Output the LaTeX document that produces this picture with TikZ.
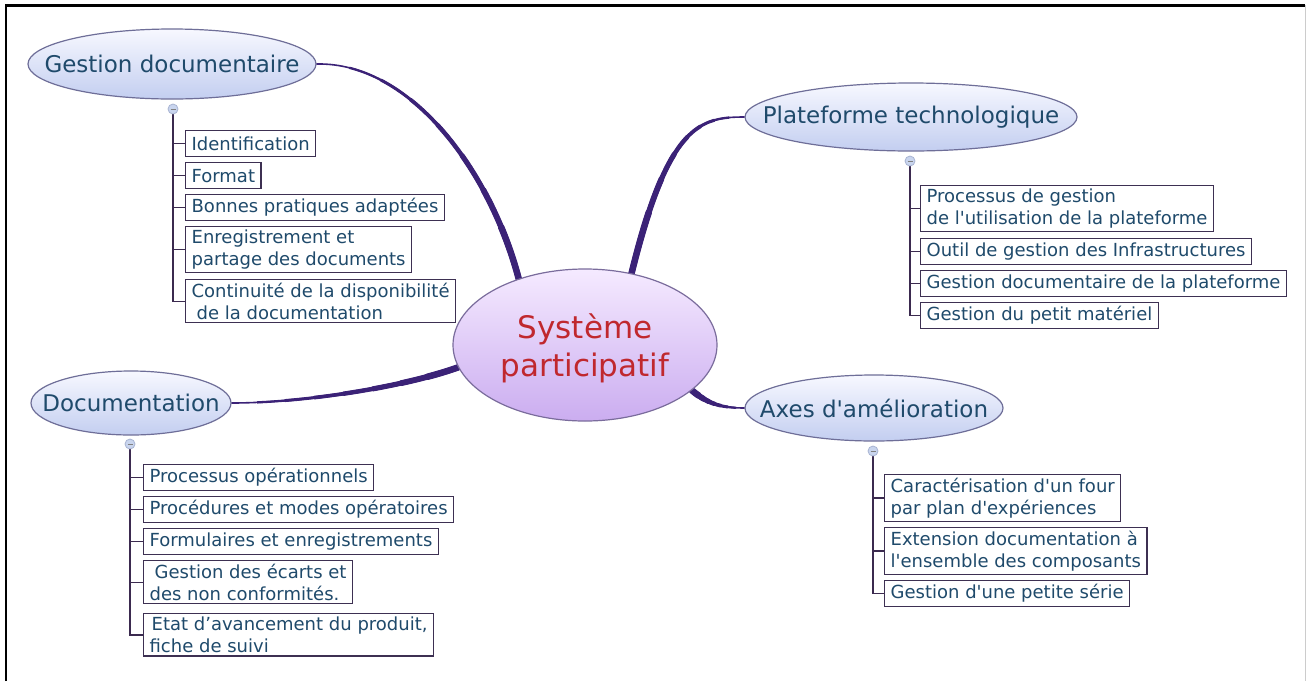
\documentclass[tikz,border=0pt]{standalone}
\usepackage{fontspec}
\setmainfont{DejaVu Sans}[Ligatures=TeXOff]
\usetikzlibrary{shapes.geometric,calc,backgrounds}

\definecolor{txtblue}{HTML}{1F4A6B}
\definecolor{boxline}{HTML}{3D3052}
\definecolor{branchcol}{HTML}{3B2277}
\definecolor{treeline}{HTML}{3B2A4F}
\definecolor{topicedge}{HTML}{6E6E98}
\definecolor{topictop}{HTML}{F7F8FF}
\definecolor{topicbot}{HTML}{C3CEF0}
\definecolor{hubedge}{HTML}{7A6C9C}
\definecolor{hubtop}{HTML}{F5EAFF}
\definecolor{hubbot}{HTML}{CBADF0}
\definecolor{hubtext}{HTML}{C0282E}
\definecolor{knobfill}{HTML}{C9D5EE}
\definecolor{knobedge}{HTML}{A8B4D2}

\tikzset{
  topic/.style={ellipse, draw=topicedge, line width=1.2pt,
    top color=topictop, bottom color=topicbot, inner sep=0pt},
  topiclabel/.style={inner sep=0pt, text=txtblue, font=\fontsize{23}{27}\selectfont},
  hub/.style={ellipse, draw=hubedge, line width=1.2pt,
    top color=hubtop, bottom color=hubbot, inner sep=0pt},
  hublabel/.style={inner sep=0pt, align=center, text=hubtext,
    font=\fontsize{31}{38}\selectfont},
  leaf/.style={draw=boxline, line width=1.3pt, fill=white, anchor=north west,
    inner xsep=6pt, inner ysep=3.5pt, minimum height=26pt, align=left,
    text=txtblue, font=\fontsize{18}{21.5}\selectfont},
  knob/.style={circle, draw=knobedge, line width=0.8pt, fill=knobfill,
    minimum size=10pt, inner sep=0pt,
    path picture={\draw[black!50, line width=0.8pt]
      ($(path picture bounding box.west)+(2.5,0)$) --
      ($(path picture bounding box.east)+(-2.5,0)$);}},
  tree/.style={draw=treeline, line width=1.4pt},
  branch line/.style={draw=branchcol, line cap=round},
}

% tapered branch: thick at #1, Bezier controls #2 and #3, thin at #4
\newcommand\taperbranch[4]{%
  \foreach \tv/\wv in {1/1.6,0.88/2.3,0.76/3.0,0.64/3.7,0.52/4.4,0.40/5.1,0.28/5.8,0.16/6.5}{%
    \path ($(#1)!\tv!(#2)$) coordinate (bqa)
          ($(#2)!\tv!(#3)$) coordinate (bqm)
          ($(#3)!\tv!(#4)$) coordinate (bqn);
    \path ($(bqa)!\tv!(bqm)$) coordinate (bqb)
          ($(bqm)!\tv!(bqn)$) coordinate (bqr);
    \path ($(bqb)!\tv!(bqr)$) coordinate (bqc);
    \draw[branch line, line width=\wv pt] (#1) .. controls (bqa) and (bqb) .. (bqc);
  }%
}

\begin{document}
\begin{tikzpicture}[x=1pt,y=-1pt]
\useasboundingbox (0,0) rectangle (1307,681);
\begin{pgfonlayer}{background}
\fill[white] (0,0) rectangle (1307,681);
\end{pgfonlayer}

% central topic and main topics
\node[hub, minimum width=264pt, minimum height=152pt] (c) at (585,345) {};
\node[hublabel] (ct) at (585,348) {Système\\participatif};
\node[topic, minimum width=288pt, minimum height=70pt] (gd) at (172,64) {};
\node[topiclabel] (gdt) at (gd) {Gestion documentaire};
\node[topic, minimum width=332pt, minimum height=68pt] (pt) at (911,117) {};
\node[topiclabel] (ptt) at (pt) {Plateforme technologique};
\node[topic, minimum width=200pt, minimum height=64pt] (doc) at (131,403) {};
\node[topiclabel] (doct) at (doc) {Documentation};
\node[topic, minimum width=258pt, minimum height=66pt] (ax) at (874,408) {};
\node[topiclabel] (axt) at (ax) {Axes d'amélioration};

% collapse knobs
\node[knob] (gdk) at (173,109) {};
\node[knob] (ptk) at (910,161) {};
\node[knob] (dock) at (130,444) {};
\node[knob] (axk) at (873,451) {};

% Gestion documentaire
\node[leaf] (gd1) at (185,130) {Identification};
\node[leaf] (gd2) at (185,162) {Format};
\node[leaf] (gd3) at (185,194) {Bonnes pratiques adaptées};
\node[leaf] (gd4) at (185,226) {Enregistrement et\\partage des documents};
\node[leaf] (gd5) at (185,279) {Continuité de la disponibilité\\\hspace*{5pt}de la documentation};

% Plateforme technologique
\node[leaf] (pt1) at (920,185) {Processus de gestion\\de l'utilisation de la plateforme};
\node[leaf] (pt2) at (920,238) {Outil de gestion des Infrastructures};
\node[leaf] (pt3) at (920,270) {Gestion documentaire de la plateforme};
\node[leaf] (pt4) at (920,302) {Gestion du petit matériel};

% Documentation
\node[leaf] (doc1) at (143,464) {Processus opérationnels};
\node[leaf] (doc2) at (143,496) {Procédures et modes opératoires};
\node[leaf] (doc3) at (143,528) {Formulaires et enregistrements};
\node[leaf] (doc4) at (143,560) {\hspace*{5pt}Gestion des écarts et\\des non conformités.};
\node[leaf] (doc5) at (143,613) {\hspace*{2pt}Etat d’avancement du produit,\\fiche de suivi};

% Axes d'amélioration
\node[leaf] (ax1) at (884,474) {Caractérisation d'un four\\par plan d'expériences};
\node[leaf] (ax2) at (884,527) {Extension documentation à\\l'ensemble des composants};
\node[leaf] (ax3) at (884,580) {Gestion d'une petite série};

\begin{pgfonlayer}{background}
% tree lines from the knobs to the leaves
\foreach \n in {gd1,gd2,gd3,gd4,gd5} \draw[tree] (gdk.south) |- (\n.west);
\foreach \n in {pt1,pt2,pt3,pt4} \draw[tree] (ptk.south) |- (\n.west);
\foreach \n in {doc1,doc2,doc3,doc4,doc5} \draw[tree] (dock.south) |- (\n.west);
\foreach \n in {ax1,ax2,ax3} \draw[tree] (axk.south) |- (\n.west);

% branches from the central topic
\taperbranch{c.135}{490,170}{410,62}{gd.east}
\taperbranch{c.57}{668,125}{700,117}{pt.west}
\taperbranch{c.190}{400,388}{300,403}{doc.east}
\taperbranch{c.-23}{706,402}{718,408}{ax.west}
\end{pgfonlayer}

% frame
\draw[black, line width=2.2pt] (6,681) -- (6,5.5) -- (1305,5.5);
\draw[black!20, line width=1pt] (1305.5,5) -- (1305.5,681);
\end{tikzpicture}
\end{document}
